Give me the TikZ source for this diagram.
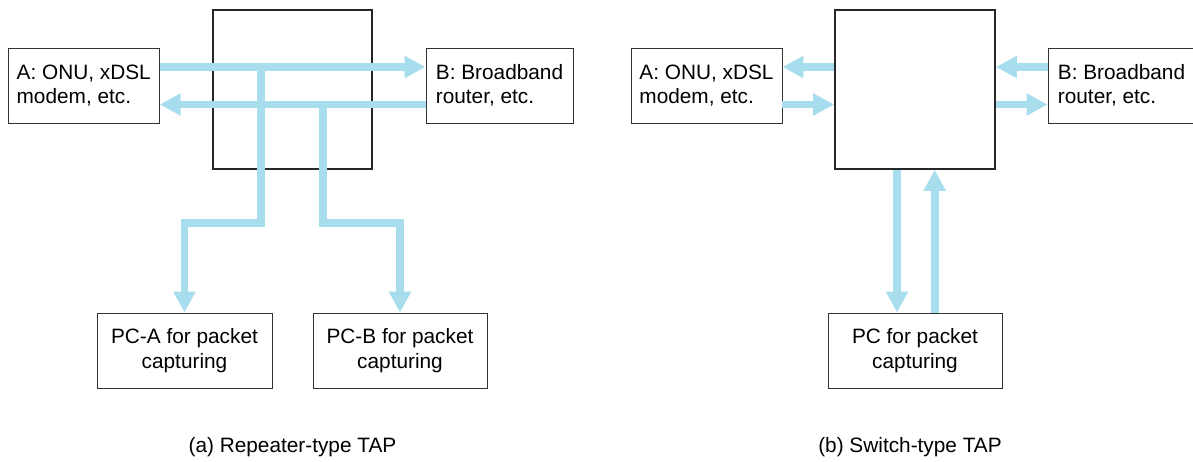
\documentclass[tikz,border=0pt]{standalone}
\usepackage{fontspec}
\setmainfont{Liberation Sans}
\usetikzlibrary{arrows.meta}

\definecolor{flowblue}{HTML}{A8DDEE}
\definecolor{boxline}{HTML}{333333}

\tikzset{
    box/.style={draw=boxline, line width=0.9pt, minimum height=75pt, inner sep=0pt, align=left},
    pcbox/.style={box, minimum width=175pt, align=center},
    tapbox/.style={draw=black!85, line width=1.6pt, minimum width=159pt, minimum height=159pt, inner sep=0pt},
    flow/.style={draw=flowblue, line width=7.7pt, -{Triangle[width=21pt, length=21pt]}},
    line/.style={draw=flowblue, line width=7.7pt},
    caption/.style={inner sep=0pt}
}

\begin{document}
\begin{tikzpicture}[x=1pt, y=-1pt, font=\fontsize{20.8}{24.5}\selectfont]
    \useasboundingbox (0,0) rectangle (1193,461);

    % Levels of the lines
    \coordinate (hi) at (0,67);
    \coordinate (lo) at (0,104.5);
    \coordinate (knee) at (0,223);

    % (a) Repeater-type TAP
    \node[box, minimum width=151pt] (a) at (83.7,85.5) {A: ONU, xDSL\\modem, etc.};
    \node[tapbox] (tapa) at (292.5,89.5) {};
    \node[box, minimum width=147pt] (b) at (499.5,85.5) {B: Broadband\\router, etc.};
    \node[pcbox] (pca) at (184.5,350.5) {PC-A for packet\\capturing};
    \node[pcbox, minimum width=174pt] (pcb) at (400,350.5) {PC-B for packet\\capturing};

    \draw[flow] (a.east |- hi) -- (b.west |- hi);
    \draw[flow] (b.west |- lo) -- (a.east |- lo);

    % Taps to the capturing PCs
    \coordinate (splita) at (261,67);
    \coordinate (splitb) at (323,104.5);
    \draw[flow] (splita) -- (splita |- knee) -| (pca.north);
    \draw[flow] (splitb) -- (splitb |- knee) -| (pcb.north);

    \node[caption] (capa) at (292.5,447) {(a) Repeater-type TAP};

    % (b) Switch-type TAP
    \node[box, minimum width=151pt] (a2) at (706.5,85.5) {A: ONU, xDSL\\modem, etc.};
    \node[tapbox, minimum width=160pt] (tapb) at (915,89.5) {};
    \node[box, minimum width=147pt] (b2) at (1121.5,85.5) {B: Broadband\\router, etc.};
    \node[pcbox, minimum width=174pt] (pc) at (915,350.5) {PC for packet\\capturing};

    \draw[flow] (tapb.west |- hi) -- (a2.east |- hi);
    \draw[flow] (a2.east |- lo) -- (tapb.west |- lo);
    \draw[flow] (b2.west |- hi) -- (tapb.east |- hi);
    \draw[flow] (tapb.east |- lo) -- (b2.west |- lo);

    % Mirror port to the PC
    \coordinate (down) at (897,0);
    \coordinate (up) at (934.7,0);
    \draw[flow] (tapb.south -| down) -- (pc.north -| down);
    \draw[flow] (pc.north -| up) -- (tapb.south -| up);

    \node[caption] (capb) at (910,447) {(b) Switch-type TAP};
\end{tikzpicture}
\end{document}
